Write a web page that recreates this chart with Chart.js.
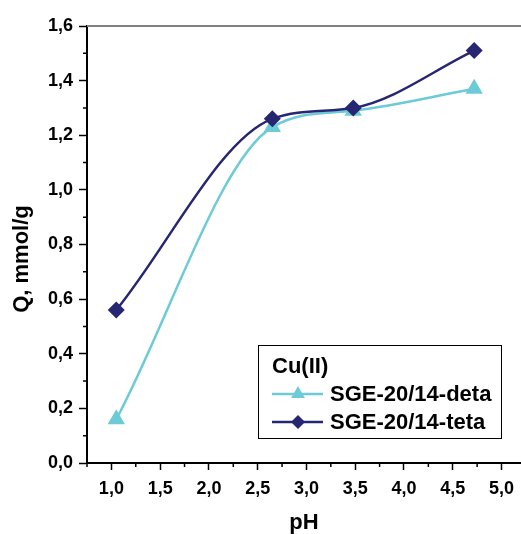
<!DOCTYPE html>
<html>
<head>
<meta charset="utf-8">
<script src="https://cdn.jsdelivr.net/npm/chart.js@4/dist/chart.umd.min.js"></script>
<style>
  html, body { margin: 0; padding: 0; background: #fff; }
  #wrap { width: 521px; height: 534px; }
</style>
</head>
<body>
<div id="wrap"><canvas id="myChart"></canvas></div>
<script>
    // values
    const phDeta = [1.05, 2.65, 3.48, 4.72];
    const qDeta = [0.16, 1.23, 1.29, 1.37];
    const phTeta = [1.05, 2.65, 3.48, 4.72];
    const qTeta = [0.56, 1.26, 1.30, 1.51];

    const xMajor = [1.0, 1.5, 2.0, 2.5, 3.0, 3.5, 4.0, 4.5, 5.0];
    const xMinor = [0.75, 1.25, 1.75, 2.25, 2.75, 3.25, 3.75, 4.25, 4.75];
    const yMajor = [0.0, 0.2, 0.4, 0.6, 0.8, 1.0, 1.2, 1.4, 1.6];
    const yMinor = [0.1, 0.3, 0.5, 0.7, 0.9, 1.1, 1.3, 1.5];

    const legendTitle = 'Cu(II)';
    const seriesNames = ['SGE-20/14-deta', 'SGE-20/14-teta'];
    const xTitle = 'pH';
    const yTitle = 'Q, mmol/g';

    const cyan = 'rgb(108,203,214)';
    const navy = 'rgb(38,38,115)';
    const fontFam = '"Liberation Sans", Arial, sans-serif';

    const fmt = v => v.toFixed(1).replace('.', ',');

    function marker(c, style, x, y, r, color) {
    c.save();
    c.fillStyle = color;
    c.beginPath();
    if (style === 'triangle') {
    c.moveTo(x, y - r);
    c.lineTo(x + r * 0.866, y + r * 0.5);
    c.lineTo(x - r * 0.866, y + r * 0.5);
    } else {
    c.moveTo(x, y - r);
    c.lineTo(x + r, y);
    c.lineTo(x, y + r);
    c.lineTo(x - r, y);
    }
    c.closePath();
    c.fill();
    c.restore();
}

    const extras = {
    id: 'extras',
    afterDraw(chart) {
    const c = chart.ctx;
    const xs = chart.scales.x, ys = chart.scales.y;
    const a = chart.chartArea;
    c.save();
    // top frame line
    c.strokeStyle = '#808080';
    c.lineWidth = 2;
    c.beginPath();
    c.moveTo(a.left, a.top);
    c.lineTo(a.right, a.top);
    c.stroke();
    // minor ticks
    c.strokeStyle = '#000';
    c.lineWidth = 1.5;
    c.beginPath();
    xMinor.forEach(v => {
    const px = xs.getPixelForValue(v);
    c.moveTo(px, a.bottom);
    c.lineTo(px, a.bottom + 4);
});
    yMinor.forEach(v => {
    const py = ys.getPixelForValue(v);
    c.moveTo(a.left, py);
    c.lineTo(a.left - 4, py);
});
    c.stroke();
    // y title
    c.fillStyle = '#000';
    c.font = 'bold 22px ' + fontFam;
    c.textAlign = 'center';
    c.textBaseline = 'middle';
    c.translate(22, 259);
    c.rotate(-Math.PI / 2);
    c.fillText(yTitle, 0, 0);
    c.restore();

    // legend box
    c.save();
    c.strokeStyle = '#000';
    c.lineWidth = 1;
    c.strokeRect(258.5, 345.5, 243, 93);
    c.fillStyle = '#000';
    c.font = 'bold 22px ' + fontFam;
    c.textBaseline = 'middle';
    c.textAlign = 'left';
    c.fillText(legendTitle, 272, 367);
    const rows = [
    {y: 394, color: cyan, style: 'triangle', r: 8},
    {y: 422, color: navy, style: 'diamond', r: 7}
    ];
    rows.forEach((row, i) => {
    c.strokeStyle = row.color;
    c.lineWidth = 2.5;
    c.beginPath();
    c.moveTo(272, row.y);
    c.lineTo(323, row.y);
    c.stroke();
    marker(c, row.style, 298, row.y, row.r, row.color);
    c.fillStyle = '#000';
    c.fillText(seriesNames[i], 330, row.y + 1);
});
    c.restore();
}
};

    const ctx = document.getElementById('myChart');

    new Chart(ctx, {
    type: 'line',
    data: {
    datasets: [{
    label: seriesNames[0],
    data: phDeta.map((x, i) => ({x: x, y: qDeta[i]})),
    borderColor: cyan,
    backgroundColor: cyan,
    borderWidth: 2.5,
    pointStyle: 'triangle',
    pointRadius: 10,
    pointBorderWidth: 0,
    cubicInterpolationMode: 'monotone',
    order: 2
}, {
    label: seriesNames[1],
    data: phTeta.map((x, i) => ({x: x, y: qTeta[i]})),
    borderColor: navy,
    backgroundColor: navy,
    borderWidth: 2.5,
    pointStyle: 'rectRot',
    pointRadius: 8.5,
    pointBorderWidth: 0,
    cubicInterpolationMode: 'monotone',
    order: 1
}]
},
    options: {
    responsive: true,
    maintainAspectRatio: false,
    animation: false,
    layout: {
    autoPadding: false,
    padding: {top: 26, right: 0, bottom: 0, left: 0}
},
    plugins: {
    legend: {display: false},
    tooltip: {enabled: false}
},
    scales: {
    x: {
    type: 'linear',
    min: 0.75,
    max: 5.2,
    afterBuildTicks: s => { s.ticks = xMajor.map(v => ({value: v})); },
    afterFit: s => { s.height = 71; s.paddingLeft = 0; s.paddingRight = 0; },
    border: {color: '#000', width: 2},
    grid: {drawOnChartArea: false, drawTicks: true, tickLength: 7, tickColor: '#000', tickWidth: 1.5},
    ticks: {
    color: '#000',
    padding: 8,
    maxRotation: 0,
    font: {family: fontFam, size: 18, weight: 'bold'},
    callback: v => fmt(v)
},
    title: {
    display: true,
    text: xTitle,
    color: '#000',
    padding: {top: 0, bottom: 0},
    font: {family: fontFam, size: 22, weight: 'bold', lineHeight: 1}
}
},
    y: {
    min: 0,
    max: 1.6,
    afterBuildTicks: s => { s.ticks = yMajor.map(v => ({value: v})); },
    afterFit: s => { s.width = 87; s.paddingTop = 0; s.paddingBottom = 0; },
    border: {color: '#000', width: 2},
    grid: {drawOnChartArea: false, drawTicks: true, tickLength: 8, tickColor: '#000', tickWidth: 1.5},
    ticks: {
    color: '#000',
    padding: 6,
    font: {family: fontFam, size: 18, weight: 'bold'},
    callback: v => fmt(v)
}
}
}
},
    plugins: [extras]
});
</script>
</body>
</html>
